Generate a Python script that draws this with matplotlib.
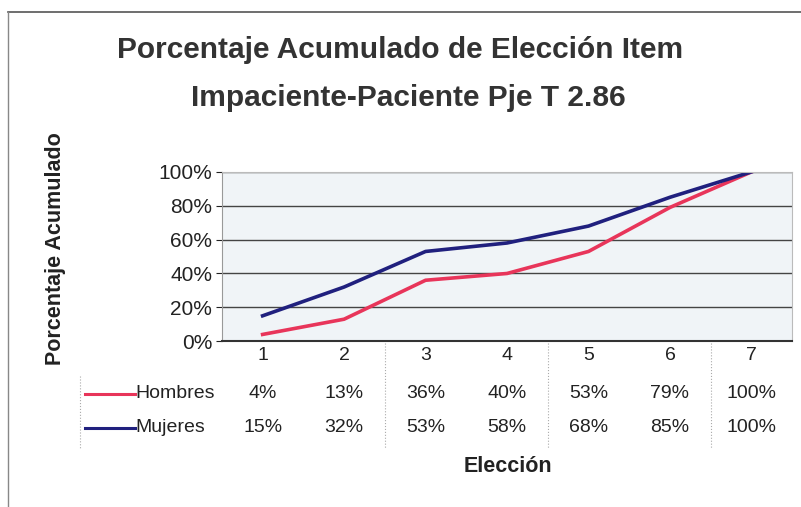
import numpy as np
import matplotlib.pyplot as plt
import matplotlib.transforms as mtransforms
from matplotlib.lines import Line2D

# data
categorias = [1, 2, 3, 4, 5, 6, 7]
hombres = [4, 13, 36, 40, 53, 79, 100]
mujeres = [15, 32, 53, 58, 68, 85, 100]
series = [("Hombres", hombres, "#e8355a"), ("Mujeres", mujeres, "#20207e")]

plt.rcParams['font.family'] = ['Liberation Sans', 'DejaVu Sans']

fig = plt.figure(figsize=(8.01, 5.07), dpi=100)
fig.patch.set_facecolor("white")

# outer chart frame (top and left edges visible)
fig.add_artist(Line2D([0.01, 1.0], [0.976, 0.976], color="#555555", lw=1.2))
fig.add_artist(Line2D([0.01, 0.01], [0.0, 0.976], color="#888888", lw=1.0))

ax = fig.add_axes([0.277, 0.327, 0.712, 0.334])
ax.set_facecolor("#f0f4f7")
x = np.array(categorias)
for nombre, vals, color in series:
    ax.plot(x, vals, color=color, lw=2.6)

ax.set_xlim(0.5, 7.5)
ax.set_ylim(0, 100)
ax.set_yticks(range(0, 101, 20))
ax.set_yticklabels([f"{v}%" for v in range(0, 101, 20)], fontsize=15)
ax.set_xticks([])
ax.grid(axis="y", color="#444444", lw=1.0)
ax.set_axisbelow(True)
for s in ["top", "right"]:
    ax.spines[s].set_color("#bbbbbb")
ax.spines["left"].set_color("#999999")
ax.spines["bottom"].set_color("#333333")
ax.spines["bottom"].set_linewidth(1.5)
ax.tick_params(axis="y", length=4, pad=3, colors="#222222")

# data table under the axis
tr = mtransforms.blended_transform_factory(ax.transData, fig.transFigure)
y_head, y_h, y_m = 1 - 356 / 507, 1 - 394 / 507, 1 - 428 / 507
for c in categorias:
    fig.text(c, y_head, str(c), transform=tr, ha="center", va="center", fontsize=14, color="#222222")
for (nombre, vals, color), yy in zip(series, [y_h, y_m]):
    for c, v in zip(categorias, vals):
        fig.text(c, yy, f"{v}%", transform=tr, ha="center", va="center", fontsize=14, color="#222222")
    fig.add_artist(Line2D([85 / 801, 135 / 801], [yy, yy], color=color, lw=2.2))
    fig.text(135 / 801, yy, nombre, ha="left", va="center", fontsize=14, color="#222222")

# faint table separators
for xb in [2.5, 4.5, 6.5]:
    fig.add_artist(Line2D([xb, xb], [1 - 343 / 507, 1 - 448 / 507], transform=tr,
                          color="#aaaaaa", lw=0.8, ls=":"))
fig.add_artist(Line2D([80 / 801, 80 / 801], [1 - 376 / 507, 1 - 448 / 507],
                      color="#aaaaaa", lw=0.8, ls=":"))

fig.text(0.5, 1 - 50 / 507, "Porcentaje Acumulado de Elección Item", ha="center", va="center",
         fontsize=21.5, fontweight="bold", color="#333333")
fig.text(0.51, 1 - 98 / 507, "Impaciente-Paciente Pje T 2.86", ha="center", va="center",
         fontsize=21.5, fontweight="bold", color="#333333")
fig.text(55 / 801, 1 - 249 / 507, "Porcentaje Acumulado", rotation=90, ha="center", va="center",
         fontsize=15.5, fontweight="bold", color="#222222")
fig.text(508 / 801, 1 - 467 / 507, "Elección",
         ha="center", va="center", fontsize=15.5, fontweight="bold", color="#222222")

fig.savefig("out.png", dpi=100)
